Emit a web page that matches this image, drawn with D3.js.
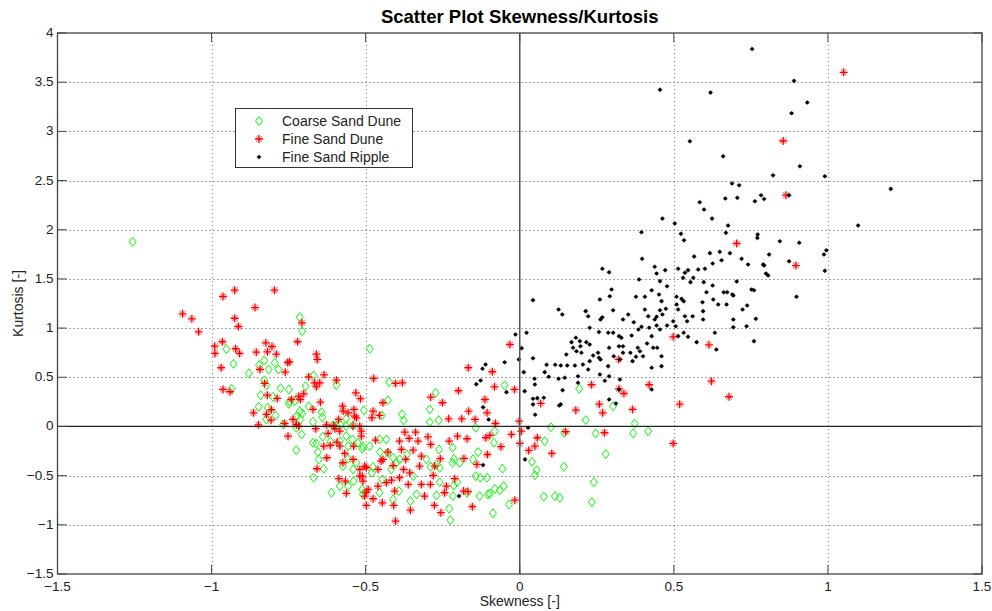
<!DOCTYPE html>
<html><head><meta charset="utf-8">
<script src="https://cdn.jsdelivr.net/npm/d3@7"></script>
<style>body{margin:0;background:#fff}svg{display:block}text{font-family:"Liberation Sans",Arial,sans-serif}</style>
</head><body><svg id="c" width="992" height="611"></svg>
<script>
const xTicks=[-1.5,-1,-0.5,0,0.5,1,1.5];
const yTicks=[-1.5,-1,-0.5,0,0.5,1,1.5,2,2.5,3,3.5,4];
const seriesNames=["Coarse Sand Dune","Fine Sand Dune","Fine Sand Ripple"];

const coarseSandDune=[[-1.256,1.877],[-0.714,1.111],[-0.706,0.969],[-0.952,0.786],
[-0.929,0.637],[-0.879,0.539],[-0.846,0.623],[-0.829,0.671],[-0.815,0.579],[-0.795,0.647],[-0.783,0.579],[-0.669,0.518],[-0.595,0.42],[-0.829,0.467],[-0.822,0.417],[-0.935,0.383],[-0.776,0.389],[-0.841,0.318],[-0.801,0.302],[-0.749,0.376],[-0.747,0.254],[-0.749,0.23],[-0.73,0.257],[-0.695,0.41],[-0.847,0.2],[-0.818,0.19],[-0.822,0.071],[-0.792,0.112],[-0.685,0.206],[-0.643,0.145],[-0.641,0.094],[-0.714,0.155],[-0.725,0.098],[-0.712,0.071],[-0.768,0.02],[-0.725,-0.013],[-0.708,-0.081],[-0.725,-0.241],[-0.671,0.048],[-0.595,0.01],[-0.563,0.078],[-0.506,0.163],[-0.541,0.01],[-0.563,0.003],[-0.671,-0.166],[-0.66,-0.173],[-0.639,-0.105],[-0.614,-0.155],[-0.584,-0.149],[-0.563,-0.099],[-0.557,-0.2],[-0.543,-0.132],[-0.525,-0.166],[-0.509,-0.2],[-0.652,-0.335],[-0.636,-0.43],[-0.669,-0.521],[-0.557,-0.328],[-0.53,-0.369],[-0.541,-0.437],[-0.539,-0.556],[-0.557,-0.607],[-0.611,-0.674],[-0.511,-0.64],[-0.509,-0.691],
[-0.706,0.134],[-0.582,0.02],[-0.606,0.01],[-0.655,-0.261],[-0.574,-0.403],[-0.584,-0.607],
[-0.424,0.45],[-0.428,0.267],[-0.448,0.112],[-0.382,0.122],[-0.377,0.061],[-0.273,0.342],[-0.292,0.173],[-0.263,0.064],[-0.292,0.044],[-0.143,-0.013],[-0.049,0.417],[-0.081,-0.048],[-0.084,-0.166],[-0.135,-0.261],[-0.056,-0.43],[-0.143,-0.505],[-0.128,-0.521],[-0.106,-0.521],[-0.052,-0.607],[-0.065,-0.65],[-0.103,-0.691],[-0.13,-0.708],[-0.087,-0.884],[-0.152,-0.335],[-0.195,-0.369],[-0.218,-0.369],[-0.214,-0.328],[-0.218,-0.217],[-0.262,-0.234],[-0.366,-0.285],[-0.411,-0.318],[-0.428,-0.267],[-0.453,-0.261],[-0.487,-0.2],[-0.511,-0.227],[-0.455,-0.132],[-0.433,-0.132],[-0.289,-0.41],[-0.26,-0.566],[-0.27,-0.701],[-0.214,-0.6],[-0.203,-0.566],[-0.171,-0.674],[-0.229,-0.836],[-0.225,-0.952],[-0.346,-0.505],[-0.335,-0.691],[-0.355,-0.759],[-0.392,-0.657],[-0.411,-0.742],[-0.455,-0.674],[-0.446,-0.539],[-0.48,-0.471],[-0.476,-0.41],[-0.39,-0.335],[-0.4,-0.369],[-0.417,-0.437],[-0.303,-0.335],[-0.26,-0.42],[-0.27,-0.386],
[-0.487,0.79],[-0.097,-0.683],[-0.081,-0.635],[-0.035,-0.793],[-0.217,-0.708],
[0.193,0.383],[0.303,0.206],[0.214,0.064],[0.101,-0.007],[0.144,-0.064],[0.246,-0.071],[0.373,0.03],[0.368,-0.071],[0.417,-0.048],[0.081,-0.149],[0.279,-0.281],[0.04,-0.359],[0.055,-0.444],[0.049,-0.495],[0.143,-0.41],[0.24,-0.566],[0.234,-0.769],[0.078,-0.714],[0.114,-0.708],[0.13,-0.725]];

const fineSandDune=[[-1.094,1.145],[-1.064,1.094],[-1.042,0.962],[-0.963,1.321],[-0.925,1.385],[-0.859,1.209],[-0.796,1.385],[-0.925,1.10],[-0.913,1.016],[-0.965,0.861],[-0.99,0.816],[-0.989,0.742],[-0.922,0.79],[-0.909,0.742],[-0.855,0.755],[-0.824,0.85],[-0.804,0.813],[-0.819,0.759],[-0.79,0.735],[-0.721,0.861],[-0.707,1.054],[-0.66,0.735],
[-0.657,0.681],[-0.969,0.597],[-0.747,0.657],[-0.753,0.65],[-0.843,0.579],[-0.761,0.552],[-0.685,0.505],[-0.666,0.444],[-0.66,0.403],[-0.635,0.525],[-0.595,0.47],[-0.828,0.437],[-0.963,0.376],[-0.94,0.353],[-0.787,0.285],[-0.819,0.318],[-0.717,0.308],[-0.712,0.274],[-0.701,0.332],[-0.741,0.274],[-0.864,0.139],[-0.822,0.122],[-0.806,0.17],[-0.807,0.064],[-0.848,0.017],[-0.671,0.173],[-0.736,0.071],[-0.725,0.02],[-0.717,0.003],[-0.752,-0.099],[-0.763,0.03],[-0.627,0.017],[-0.604,0.01],[-0.575,0.206],[-0.557,0.139],[-0.573,0.156],[-0.536,0.105],[-0.538,0.173],[-0.532,0.342],[-0.517,0.282],[-0.519,0.003],[-0.636,-0.2],[-0.622,-0.071],[-0.584,-0.2],[-0.593,-0.16],[-0.568,-0.274],[-0.539,-0.2],[-0.514,-0.099],[-0.626,-0.318],[-0.574,-0.369],[-0.541,-0.335],[-0.519,-0.437],[-0.503,-0.403],[-0.587,-0.531],[-0.566,-0.556],[-0.519,-0.505],[-0.509,-0.556],[-0.563,-0.681],[-0.498,-0.668],[-0.658,-0.43],
[-0.649,0.444],[-0.647,0.247],[-0.53,0.088],[-0.541,0.003],[-0.588,0.071],[-0.662,-0.023],[-0.6,-0.023],[-0.584,-0.048],[-0.615,-0.193],
[-0.474,0.488],[-0.403,0.437],[-0.381,0.444],[-0.444,0.241],[-0.476,0.155],[-0.455,0.112],[-0.48,0.088],[-0.289,0.298],[-0.251,0.241],[-0.199,0.363],[-0.166,0.155],[-0.231,0.078],[-0.188,0.078],[-0.145,0.071],[-0.167,0.597],[-0.089,0.556],[-0.082,0.403],[-0.017,0.376],[-0.113,0.274],[-0.106,0.139],[-0.079,0.03],[-0.002,0.054],[0.005,-0.048],[-0.027,-0.081],[-0.11,-0.115],[-0.097,-0.091],[-0.061,-0.206],[0,-0.173],[-0.105,-0.285],[-0.139,-0.386],[-0.016,-0.749],[-0.181,-0.325],[-0.229,-0.149],[-0.202,-0.099],[-0.171,-0.125],[-0.289,-0.183],[-0.298,-0.105],[-0.258,-0.328],[-0.33,-0.149],[-0.338,-0.058],[-0.373,-0.058],[-0.39,-0.149],[-0.359,-0.122],[-0.384,-0.234],[-0.346,-0.241],[-0.444,-0.335],[-0.45,-0.352],[-0.468,-0.139],[-0.514,-0.048],[-0.428,-0.26],[-0.281,-0.498],[-0.29,-0.589],[-0.244,-0.674],[-0.238,-0.607],[-0.211,-0.531],[-0.182,-0.657],[-0.277,-0.803],[-0.256,-0.877],[-0.154,-0.816],[-0.357,-0.471],[-0.325,-0.403],[-0.319,-0.589],[-0.309,-0.708],[-0.362,-0.589],[-0.39,-0.521],[-0.406,-0.657],[-0.409,-0.803],[-0.446,-0.776],[-0.498,-0.803],[-0.476,-0.735],[-0.355,-0.851],[-0.403,-0.962],[-0.503,-0.708],[-0.492,-0.64],[-0.433,-0.572],[-0.416,-0.546],[-0.46,-0.607],[-0.46,-0.437],[-0.498,-0.42],[-0.511,-0.505],[-0.411,-0.398],[-0.377,-0.437],[-0.37,-0.335],[-0.319,-0.302],[-0.276,-0.403],[-0.168,-0.662],
[-0.032,0.833],
[0.068,0.234],[0.029,-0.244],[0.049,-0.2],[0.057,-0.115],[0.104,-0.274],[0.149,-0.054],[0.182,0.166],[0.233,0.424],[0.258,0.227],[0.269,0.139],[0.275,-0.064],[0.322,0.383],[0.338,0.335],[0.366,0.173],[0.321,0.681],[0.42,0.424],[0.498,0.911],[0.519,0.227],[0.498,-0.173],
[0.704,1.86],[0.896,1.636],[0.614,0.83],[0.622,0.46],[0.679,0.302],
[1.051,3.6],[0.855,2.902],[0.864,2.351]];

const fineSandRipple=[[0.754,3.837],[0.89,3.513],[0.455,3.422],[0.619,3.394],[0.933,3.293],[0.882,3.184],[0.552,2.899],[0.66,2.746],[0.909,2.645],[0.822,2.553],[0.99,2.543],[1.204,2.415],[1.098,2.043],[0.689,2.47],[0.712,2.452],[0.667,2.317],[0.706,2.324],[0.783,2.351],[0.793,2.313],[0.763,2.29],[0.874,2.351],[0.584,2.279],[0.598,2.205],[0.624,2.113],[0.463,2.113],
[0.995,1.792],[0.987,1.748],[0.99,1.582],
[0.395,1.975],[0.503,2.063],[0.523,1.958],[0.533,1.893],[0.676,2.043],[0.669,1.968],[0.772,1.951],[0.771,1.917],[0.844,1.883],[0.907,1.867],[0.397,1.704],[0.268,1.603],[0.29,1.568],[0.566,1.727],[0.617,1.762],[0.649,1.775],[0.682,1.762],[0.655,1.69],[0.72,1.704],[0.741,1.646],[0.809,1.748],[0.874,1.68],[0.79,1.646],[0.626,1.657],[0.601,1.603],[0.579,1.596],[0.546,1.589],[0.536,1.562],[0.514,1.603],[0.438,1.623],[0.444,1.555],[0.472,1.589],[0.455,1.477],[0.387,1.494],[0.53,1.511],[0.563,1.511],[0.554,1.467],[0.597,1.467],[0.626,1.433],[0.606,1.365],[0.704,1.474],[0.799,1.555],[0.806,1.534],[0.752,1.392],[0.76,1.385],[0.662,1.365],[0.673,1.365],[0.69,1.341],[0.898,1.318],[0.298,1.392],[0.292,1.324],[0.26,1.29],[0.377,1.318],[0.406,1.318],[0.428,1.385],[0.452,1.341],[0.478,1.426],[0.46,1.274],[0.509,1.318],[0.525,1.297],[0.532,1.274],[0.593,1.263],[0.628,1.29],[0.644,1.24],[0.671,1.24],[0.693,1.331],[0.723,1.189],[0.738,1.23],[0.509,1.24],[0.514,1.189],[0.474,1.196],[0.455,1.182],[0.463,1.138],[0.444,1.115],[0.438,1.087],[0.417,1.121],[0.406,1.189],[0.352,1.138],[0.37,1.06],[0.335,1.087],[0.303,1.182],[0.262,1.087],[0.268,1.11],[0.214,1.172],[0.222,1.121],[0.227,1.003],[0.257,0.959],[0.287,0.952],[0.303,0.952],[0.322,0.918],[0.33,0.901],[0.363,0.925],[0.395,1.013],[0.42,1.003],[0.444,1.026],[0.478,1.026],[0.506,1.019],[0.498,1.07],[0.543,1.07],[0.561,1.121],[0.595,1.087],[0.536,1.121],[0.693,1.087],[0.736,1.019],[0.766,1.094],[0.693,1.009],[0.633,0.952],[0.638,0.783],[0.574,0.857],[0.546,0.911],[0.532,0.952],[0.76,0.867],[0.455,0.986],[0.385,0.986],[0.138,1.138],[0.151,0.732],[0.182,0.902],[0.168,0.857],[0.195,0.867],[0.197,0.816],[0.216,0.857],[0.238,0.722],[0.254,0.749],[0.262,0.681],[0.29,0.8],[0.322,0.816],[0.335,0.816],[0.335,0.749],[0.305,0.714],[0.325,0.681],[0.359,0.749],[0.366,0.664],[0.377,0.708],[0.39,0.765],[0.4,0.714],[0.413,0.843],[0.433,0.8],[0.446,0.8],[0.46,0.714],[0.46,0.613],[0.428,0.918],[0.383,0.8],[0.287,0.613],[0.29,0.511],[0.325,0.477],[0.26,0.528],[0.222,0.579],[0.205,0.63],[0.257,0.698],[0.179,0.62],[0.154,0.62],[0.133,0.62],[0.227,0.664],[0.2,0.749],[0.173,0.8],[0.184,0.765],[0.276,0.464],[0.227,0.833],[0.146,0.495],[0.139,0.369],[0.133,0.224],[0.189,0.511],[0.189,0.444],[0.29,0.274],[0.312,0.233],[0.322,0.376],[0.428,0.597],[0.428,0.376],[0.514,0.918],[0.595,1.172],[0.793,1.636],
[0.043,1.284],[0.126,1.189],[-0.014,0.935],[0.022,0.952],[0.006,0.796],[-0.049,0.653],[-0.003,0.681],[0.043,0.694],[0.013,0.552],[-0.043,0.349],[0.016,0.359],[0.048,0.485],[0.049,0.427],[0.043,0.282],[0.043,0.224],[0.05,0.119],[0.057,0.288],[0.078,0.292],[0.027,-0.013],[0.017,-0.335],[0.128,0.213],[0.087,0.627],[0.115,0.627],[0.081,0.552],[0.094,0.505],[0.126,0.485],
[-0.121,0.586],[-0.111,0.63],[-0.141,0.43],[-0.127,0.467],[-0.119,0.196],[-0.101,0.071],[-0.119,-0.393],[-0.197,-0.708]];

const svg=d3.select("#c");
const L=57.5,R=982,T=33,B=574;
const x=d3.scaleLinear().domain([-1.5,1.5]).range([L,R]);
const y=d3.scaleLinear().domain([-1.5,4]).range([B,T]);

// grid
const g=svg.append("g");
g.selectAll(".gx").data(xTicks.filter(v=>v>-1.5&&v<1.5&&v!==0)).enter().append("line")
 .attr("x1",d=>Math.round(x(d))+0.5).attr("x2",d=>Math.round(x(d))+0.5).attr("y1",T).attr("y2",B)
 .attr("stroke","#8a8a8a").attr("stroke-dasharray","1,3");
g.selectAll(".gy").data(yTicks.filter(v=>v>-1.5&&v<4&&v!==0)).enter().append("line")
 .attr("y1",d=>Math.round(y(d))+0.5).attr("y2",d=>Math.round(y(d))+0.5).attr("x1",L).attr("x2",R)
 .attr("stroke","#444").attr("stroke-dasharray","1,3");

// markers
const diamond="M0,-4.5L3.5,0L0,4.5L-3.5,0Z";
function drawDiamond(sel){sel.append("path").attr("d",diamond).attr("fill","none").attr("stroke","#00ff00").attr("stroke-width",1);}
function drawStar(sel){
 sel.append("path").attr("d","M-3,-3L3,3M-3,3L3,-3").attr("stroke","#ff0000").attr("stroke-opacity",0.45).attr("stroke-width",1.2);
 sel.append("path").attr("d","M-4,0H4M0,-4V4").attr("stroke","#ff0000").attr("stroke-width",1.3);
}
function drawDot(sel){
 sel.append("path").attr("d","M-2.5,0H2.5M0,-2.5V2.5").attr("stroke","#000").attr("stroke-opacity",0.35).attr("stroke-width",1.5);
 sel.append("circle").attr("r",1.8).attr("fill","#000");
}

svg.append("g").selectAll("g").data(coarseSandDune).enter().append("g")
 .attr("transform",d=>`translate(${x(d[0])},${y(d[1])})`).call(drawDiamond);
svg.append("g").selectAll("g").data(fineSandDune).enter().append("g")
 .attr("transform",d=>`translate(${x(d[0])},${y(d[1])})`).call(drawStar);
svg.append("g").selectAll("g").data(fineSandRipple).enter().append("g")
 .attr("transform",d=>`translate(${x(d[0])},${y(d[1])})`).call(drawDot);

// zero lines
svg.append("line").attr("x1",L).attr("x2",R).attr("y1",y(0)).attr("y2",y(0)).attr("stroke","#222").attr("stroke-width",1.3);
svg.append("line").attr("x1",x(0)).attr("x2",x(0)).attr("y1",T).attr("y2",B).attr("stroke","#555").attr("stroke-width",1.5);

// axes (ticks inward on all sides)
const tk=9, axc="#444";
const ax=svg.append("g");
ax.append("rect").attr("x",L).attr("y",T).attr("width",R-L).attr("height",B-T).attr("fill","none").attr("stroke",axc).attr("stroke-width",1.3);
xTicks.forEach(v=>{
 ax.append("line").attr("x1",x(v)).attr("x2",x(v)).attr("y1",B).attr("y2",B-tk).attr("stroke",axc);
 ax.append("line").attr("x1",x(v)).attr("x2",x(v)).attr("y1",T).attr("y2",T+tk).attr("stroke",axc);
});
yTicks.forEach(v=>{
 ax.append("line").attr("x1",L).attr("x2",L+tk).attr("y1",y(v)).attr("y2",y(v)).attr("stroke",axc);
 ax.append("line").attr("x1",R).attr("x2",R-tk).attr("y1",y(v)).attr("y2",y(v)).attr("stroke",axc);
});
ax.selectAll(".xl").data(xTicks).enter().append("text").attr("x",d=>x(d)).attr("y",B+16.5)
 .attr("text-anchor","middle").attr("font-size",13.5).attr("fill","#222").text(d=>d3.format("")(d));
ax.selectAll(".yl").data(yTicks).enter().append("text").attr("x",L-4).attr("y",d=>y(d)+4)
 .attr("text-anchor","end").attr("font-size",13.5).attr("fill","#222").text(d=>d3.format("")(d));

// titles
svg.append("text").attr("x",(L+R)/2).attr("y",23).attr("text-anchor","middle").attr("font-size",18.5).attr("font-weight","bold").text("Scatter Plot Skewness/Kurtosis");
svg.append("text").attr("x",(L+R)/2).attr("y",606).attr("text-anchor","middle").attr("font-size",14).attr("fill","#222").text("Skewness [-]");
svg.append("text").attr("transform",`translate(23,${(T+B)/2}) rotate(-90)`).attr("text-anchor","middle").attr("font-size",14).attr("fill","#222").text("Kurtosis [-]");

// legend
const lg=svg.append("g");
lg.append("rect").attr("x",235.5).attr("y",108.5).attr("width",177).attr("height",59).attr("fill","#fff").attr("stroke","#333");
const drawers=[drawDiamond,drawStar,drawDot];
seriesNames.forEach((n,i)=>{
 const yy=121+i*18;
 lg.append("g").attr("transform",`translate(259,${yy})`).call(drawers[i]);
 lg.append("text").attr("x",282).attr("y",yy+5).attr("font-size",14).attr("fill","#222").text(n);
});
</script></body></html>
